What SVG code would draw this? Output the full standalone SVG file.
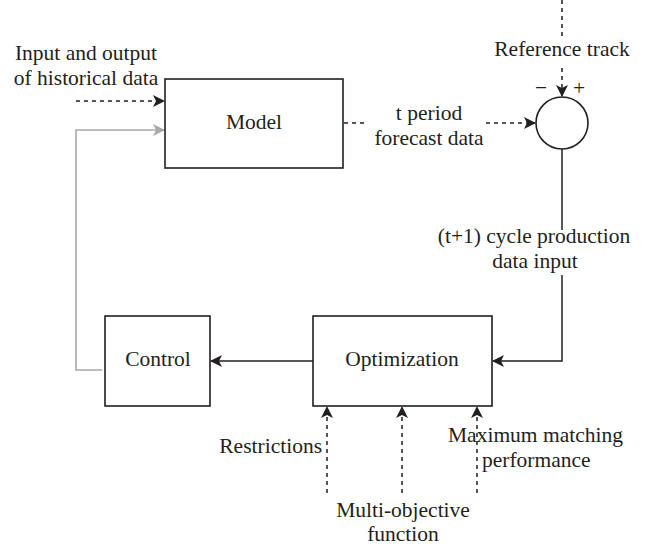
<svg xmlns="http://www.w3.org/2000/svg" width="649" height="546" viewBox="0 0 649 546">
  <style>
    .box { fill: #fff; stroke: #231f20; stroke-width: 1.6; }
    .lbl { font-family: "Liberation Serif", "Times New Roman", serif; font-size: 21.5px; fill: #231f20; }
    .sign { font-family: "Liberation Serif", "Times New Roman", serif; font-size: 21.5px; fill: #231f20; }
    .solid { fill: none; stroke: #231f20; stroke-width: 1.5; }
    .dash { fill: none; stroke: #231f20; stroke-width: 1.5; stroke-dasharray: 4 4; }
    .grey { fill: none; stroke: #a7a9ac; stroke-width: 1.6; }
  </style>
  <defs>
    <marker id="ah" viewBox="0 0 12 12" refX="11" refY="6" markerWidth="12" markerHeight="12" markerUnits="userSpaceOnUse" orient="auto">
      <path d="M0,0 L12,6 L0,12 L3,6 Z" fill="#231f20"/>
    </marker>
    <marker id="ahg" viewBox="0 0 12 12" refX="11" refY="6" markerWidth="12" markerHeight="12" markerUnits="userSpaceOnUse" orient="auto">
      <path d="M0,0 L12,6 L0,12 L3,6 Z" fill="#a7a9ac"/>
    </marker>
  </defs>

  <rect width="649" height="546" fill="#fff"/>

  <g id="connectors">
    <!-- historical data into model -->
    <path class="dash" d="M76,101 H164" marker-end="url(#ah)"/>
    <!-- control feedback to model -->
    <path class="grey" d="M102,370 H76 V130 H164" marker-end="url(#ahg)"/>
    <!-- model forecast to comparator -->
    <path class="dash" d="M344,123 H366"/>
    <path class="dash" d="M486,123 H535" marker-end="url(#ah)"/>
    <!-- reference track -->
    <path class="dash" d="M562,0 V36"/>
    <path class="dash" d="M562,68 V96" marker-end="url(#ah)"/>
    <!-- comparator to optimization, broken by its label -->
    <path class="solid" d="M562,149 V230"/>
    <path class="solid" d="M562,275 V361 H493" marker-end="url(#ah)"/>
    <!-- optimization to control -->
    <path class="solid" d="M313,361 H211" marker-end="url(#ah)"/>
    <!-- inputs to optimization -->
    <path class="dash" d="M327,493 V407" marker-end="url(#ah)"/>
    <path class="dash" d="M402,493 V407" marker-end="url(#ah)"/>
    <path class="dash" d="M477,493 V407" marker-end="url(#ah)"/>
  </g>

  <g id="model">
    <rect class="box" x="165" y="79" width="178" height="89"/>
    <text class="lbl" x="254" y="129" text-anchor="middle">Model</text>
  </g>

  <g id="comparator">
    <circle class="box" cx="562" cy="123" r="26"/>
    <text class="sign" x="541" y="95" text-anchor="middle">−</text>
    <text class="sign" x="579" y="95" text-anchor="middle">+</text>
  </g>

  <g id="optimization">
    <rect class="box" x="313" y="316" width="179" height="90"/>
    <text class="lbl" x="402" y="366" text-anchor="middle">Optimization</text>
  </g>

  <g id="control">
    <rect class="box" x="105" y="316" width="105" height="90"/>
    <text class="lbl" x="158" y="366" text-anchor="middle">Control</text>
  </g>

  <g id="labels">
    <text class="lbl" x="86" y="60" text-anchor="middle">Input and output</text>
    <text class="lbl" x="86" y="85" text-anchor="middle">of historical data</text>
    <text class="lbl" x="562" y="56" text-anchor="middle">Reference track</text>
    <text class="lbl" x="429" y="120" text-anchor="middle">t period</text>
    <text class="lbl" x="429" y="145" text-anchor="middle">forecast data</text>
    <text class="lbl" x="534" y="243" text-anchor="middle">(t+1) cycle production</text>
    <text class="lbl" x="535" y="268" text-anchor="middle">data input</text>
    <text class="lbl" x="322" y="453" text-anchor="end">Restrictions</text>
    <text class="lbl" x="448" y="442" text-anchor="start">Maximum matching</text>
    <text class="lbl" x="482" y="467" text-anchor="start">performance</text>
    <text class="lbl" x="403" y="517" text-anchor="middle">Multi-objective</text>
    <text class="lbl" x="403" y="541" text-anchor="middle">function</text>
  </g>
</svg>
